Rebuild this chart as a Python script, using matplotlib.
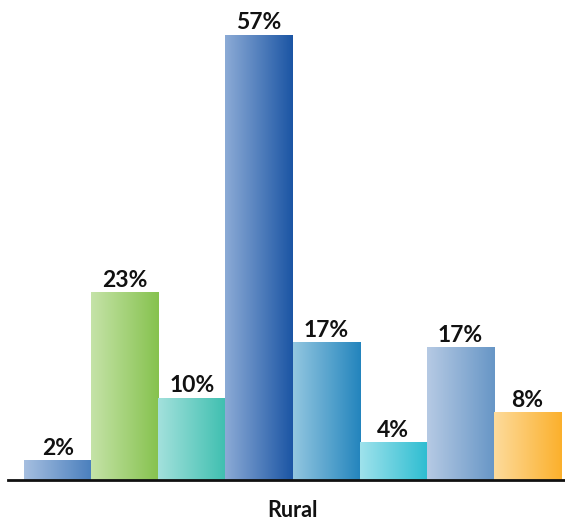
import numpy as np
import matplotlib
matplotlib.use("Agg")
import matplotlib.pyplot as plt
from matplotlib.colors import LinearSegmentedColormap

# Data
group = "Rural"
values = [2.0, 23.7, 10.05, 57.0, 17.26, 4.33, 16.6, 8.21]
labels = ["2%", "23%", "10%", "57%", "17%", "4%", "17%", "8%"]
light_colors = ["#a6bfe0", "#c5e3a8", "#a3e1dc", "#8cabd6", "#93c7e0", "#9fe2ec", "#b6cae4", "#fddb9c"]
dark_colors = ["#4a7fbd", "#86c24e", "#3fbfb0", "#1b55a4", "#2384bd", "#2dbdd1", "#6796c6", "#fbb02c"]

plt.rcParams['font.family'] = ['Lato', 'DejaVu Sans']

fig = plt.figure(figsize=(5.65, 5.21), dpi=100)
ax = fig.add_axes([8/565, 40.65/521, 557/565, 480.35/521])

base = -0.5
x = np.arange(len(values))
heights = [v - base for v in values]
bars = ax.bar(x, heights, width=1.0, bottom=base, facecolor='none', edgecolor='none')

grad = np.linspace(0, 1, 256).reshape(1, -1)
for bar, c1, c2, lab in zip(bars, light_colors, dark_colors, labels):
    x0 = bar.get_x()
    w = bar.get_width()
    y0 = bar.get_y()
    h = bar.get_height()
    cmap = LinearSegmentedColormap.from_list("g", [c1, c2])
    ax.imshow(grad, extent=[x0, x0 + w, y0, y0 + h], aspect='auto', cmap=cmap,
              interpolation='bicubic', zorder=1)
    ax.annotate(lab, (x0 + w / 2, y0 + h), xytext=(0, 4.6), textcoords='offset points',
                ha='center', va='baseline', fontsize=16.5, fontweight='bold', color='#111111')

ax.set_xlim(-0.74, 7.56)
ax.set_ylim(base, 61.6)

for s in ['top', 'right', 'left']:
    ax.spines[s].set_visible(False)
ax.spines['bottom'].set_color('#111111')
ax.spines['bottom'].set_linewidth(2.0)
ax.spines['bottom'].set_zorder(3)
ax.set_yticks([])
ax.set_xticks([x.mean()])
ax.set_xticklabels([group], fontsize=15.5, fontweight='bold', color='#111111')
ax.tick_params(axis='x', length=0, pad=14)

fig.savefig("out.png", dpi=100)
